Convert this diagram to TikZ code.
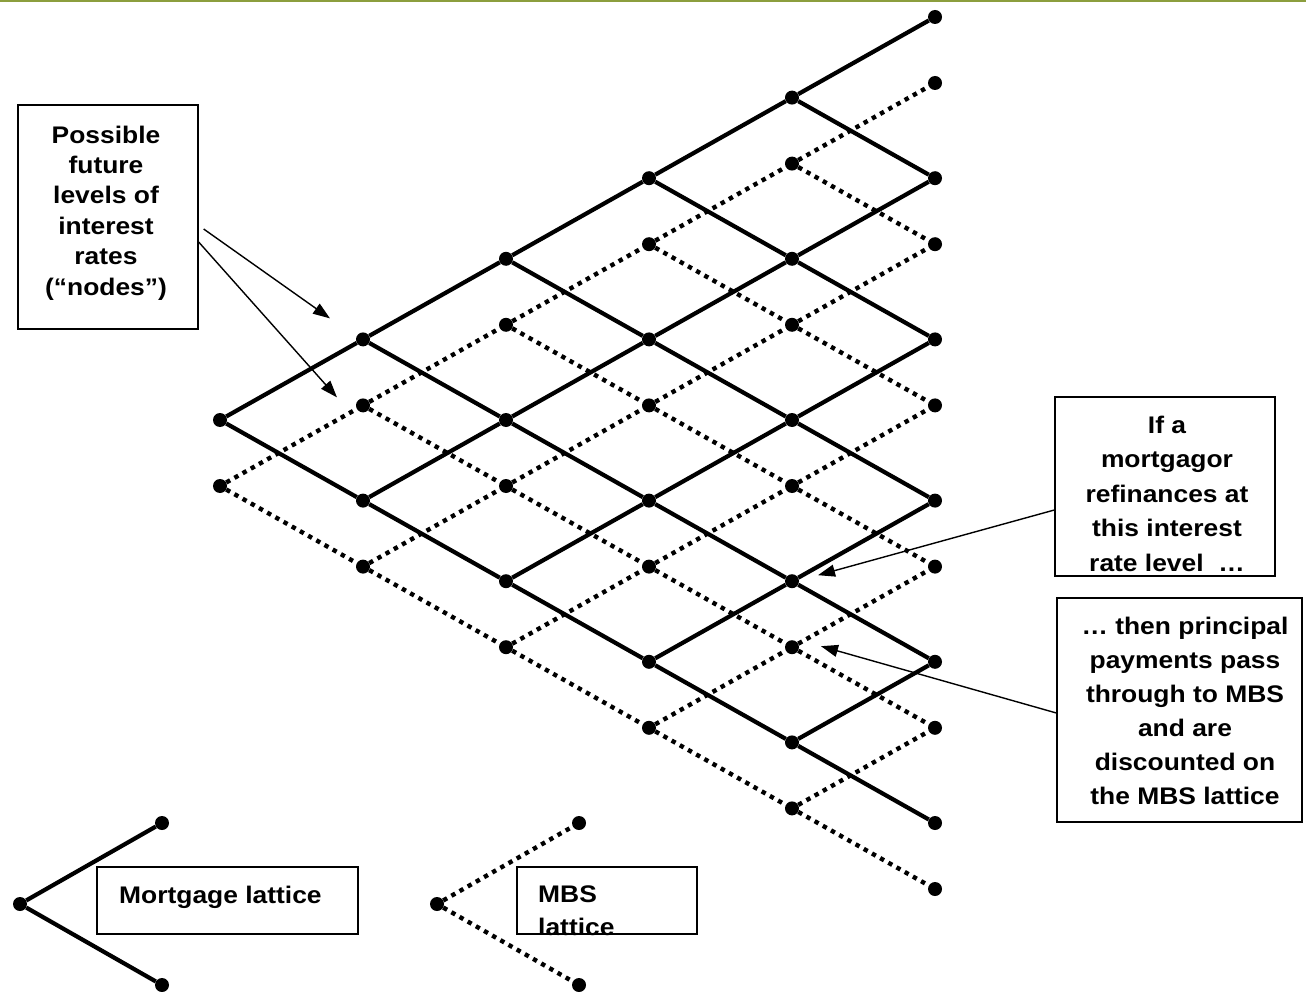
\documentclass[tikz,border=0pt]{standalone}
\usepackage{fontspec}
\setmainfont[FakeStretch=1.1]{Liberation Sans}
\usetikzlibrary{arrows.meta,calc}
\definecolor{topgreen}{RGB}{140,158,62}
\begin{document}
\begin{tikzpicture}[x=1pt,y=-1pt,
  dot/.style={circle,fill=black,inner sep=0pt,minimum size=14pt},
  solidedge/.style={line width=4.2pt},
  dottededge/.style={line width=4.4pt,dash pattern=on 4.4pt off 5pt},
  box/.style={draw=black,line width=1.3pt,inner sep=0pt},
  txt/.style={font=\fontsize{24}{30.4}\selectfont\bfseries,inner sep=0pt,align=center},
  callout/.style={line width=1.4pt,-{Triangle[length=17pt,width=12pt]}}]
\useasboundingbox (0,0) rectangle (1306,992);
\fill[topgreen] (0,0) rectangle (1306,2.5);

% lattice nodes
\foreach \i in {0,...,5}{
  \foreach \j in {0,...,\i}{
    \node[dot] (s-\i-\j) at ({220+143*\i},{420+(2*\j-\i)*80.6}) {};
    \node[dot] (d-\i-\j) at ({220+143*\i},{486+(2*\j-\i)*80.6}) {};
  }
}
% MBS lattice (dotted)
\foreach \i in {0,...,4}{
  \foreach \j in {0,...,\i}{
    \pgfmathtruncatemacro{\ni}{\i+1}
    \pgfmathtruncatemacro{\nj}{\j+1}
    \draw[dottededge] (d-\i-\j) -- (d-\ni-\j);
    \draw[dottededge] (d-\i-\j) -- (d-\ni-\nj);
  }
}
% Mortgage lattice (solid)
\foreach \i in {0,...,4}{
  \foreach \j in {0,...,\i}{
    \pgfmathtruncatemacro{\ni}{\i+1}
    \pgfmathtruncatemacro{\nj}{\j+1}
    \draw[solidedge] (s-\i-\j) -- (s-\ni-\j);
    \draw[solidedge] (s-\i-\j) -- (s-\ni-\nj);
  }
}

% boxes
\node[box,minimum width=180pt,minimum height=224pt] (lbox) at (108,217) {};
\node[txt,anchor=north] (ltext) at (106,125.5) {Possible\\future\\levels of\\interest\\rates\\(“nodes”)};

\node[box,minimum width=220pt,minimum height=179pt] (rbox1) at (1165,486.5) {};
\node[txt,anchor=north,font=\fontsize{24}{34.5}\selectfont\bfseries] (rtext1) at (1167,415.5) {If a\\mortgagor\\refinances at\\this interest\\rate level\ \ …};

\node[box,minimum width=245pt,minimum height=224pt] (rbox2) at (1179.5,710) {};
\node[txt,anchor=north,font=\fontsize{24}{34}\selectfont\bfseries] (rtext2) at (1185,616.5) {… then principal\\payments pass\\through to MBS\\and are\\discounted on\\the MBS lattice};

% arrows
\coordinate (tipA) at ($(s-1-0)+(-33,-21)$);
\coordinate (tipB) at ($(d-1-0)+(-26,-8)$);
\coordinate (tipC) at ($(s-4-3)+(26,-6)$);
\coordinate (tipD) at ($(d-4-3)+(29,-1)$);
\draw[callout] ($(lbox.east)+(5,12)$) -- (tipA);
\draw[callout] ($(lbox.east)+(0,25)$) -- (tipB);
\draw[callout] ($(rbox1.west)+(0,23.5)$) -- (tipC);
\draw[callout] ($(rbox2.west)+(0,3)$) -- (tipD);

% legend
\node[dot] (ls-r) at (20,904) {};
\node[dot] (ls-a) at (162,823) {};
\node[dot] (ls-b) at (162,985) {};
\draw[solidedge] (ls-r) -- (ls-a);
\draw[solidedge] (ls-r) -- (ls-b);
\node[box,minimum width=261pt,minimum height=67pt] (mbox) at (227.5,900.5) {};
\node[txt,anchor=base west] (mtext) at (119,903) {Mortgage lattice};

\node[dot] (ld-r) at (437,904) {};
\node[dot] (ld-a) at (579,823) {};
\node[dot] (ld-b) at (579,985) {};
\draw[dottededge] (ld-r) -- (ld-a);
\draw[dottededge] (ld-r) -- (ld-b);
\node[box,minimum width=180pt,minimum height=67pt] (bbox) at (607,900.5) {};
\node[txt,anchor=north west,align=left,font=\fontsize{24}{33}\selectfont\bfseries] (btext) at (538,885.8) {MBS\\lattice};
\end{tikzpicture}
\end{document}
